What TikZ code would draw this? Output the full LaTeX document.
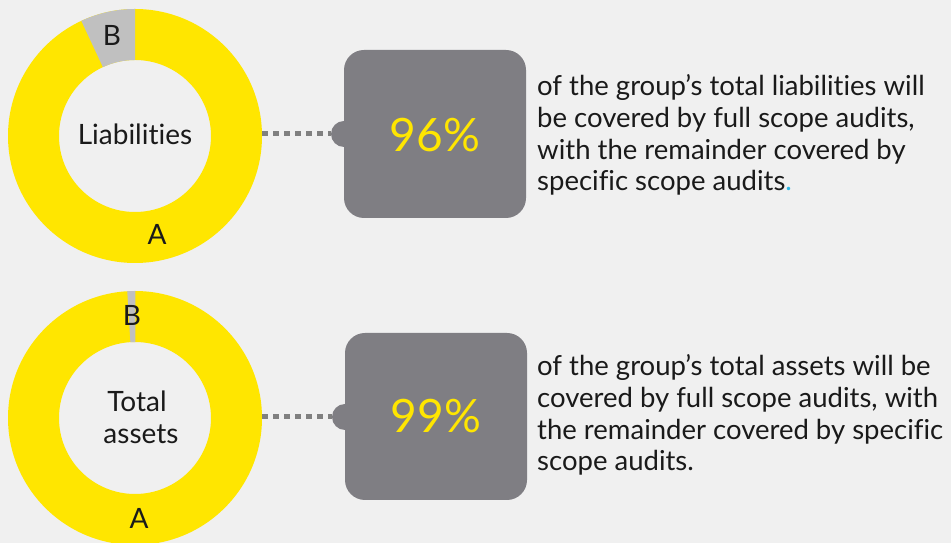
\documentclass[tikz,border=0pt]{standalone}
\usepackage{fontspec}
\setmainfont{Lato}[Ligatures={NoCommon}]
\usetikzlibrary{calc}
\definecolor{bg}{HTML}{F0F0F0}
\definecolor{eyyellow}{HTML}{FFE600}
\definecolor{boxgray}{HTML}{7F7E83}
\definecolor{dotgray}{HTML}{808080}
\definecolor{wedgegray}{HTML}{C0C0C0}
\definecolor{txt}{HTML}{1A1A1A}
\definecolor{dotblue}{HTML}{2DB7E6}
\begin{document}
\begin{tikzpicture}[x=1pt,y=1pt,
  lbl/.style={inner sep=0pt, text=txt, font=\fontsize{28}{31}\selectfont},
  body/.style={inner sep=0pt, anchor=base west, text=txt, font=\fontsize{27.5}{31}\selectfont},
  pct/.style={inner sep=0pt, anchor=base, text=eyyellow, font=\fontsize{46}{50}\selectfont},
  card/.style={fill=boxgray, rounded corners=20pt},
  link/.style={draw=dotgray, line width=5pt, dash pattern=on 5.5pt off 5.5pt},
  bump/.style={fill=boxgray}
]
\fill[bg] (0,0) rectangle (951,543);
\useasboundingbox (0,0) rectangle (951,543);

% ---------- top donut ----------
\coordinate (c1) at (135,407);
\fill[eyyellow, even odd rule] (c1) circle[radius=127] (c1) circle[radius=76];
\fill[wedgegray] ($(c1)+(90:127)$) arc[start angle=90, end angle=115, radius=127]
  -- ($(c1)+(115:76)$) arc[start angle=115, end angle=90, radius=76] -- cycle;
\node[lbl, anchor=base] (lia) at (135,398) {Liabilities};
\node[lbl, anchor=base] (b1) at (112,497) {B};
\node[lbl, anchor=base] (a1) at (157,298) {A};

% ---------- top card ----------
\fill[card] (344,325) rectangle (526,493);
\node[circle, bump, minimum size=26pt, inner sep=0pt] (k1) at (344,409) {};
\node[pct] (p1) at (435,391) {96\%};
\coordinate (s1) at (262,409);
\draw[link] (s1) -- (k1.west);

\node[body] (t11) at (537,447) {of the group’s total liabilities will};
\node[body] (t12) at (537,415.3) {be covered by full scope audits,};
\node[body] (t13) at (537,383.7) {with the remainder covered by};
\node[body] (t14) at (537,352) {specific scope audits\textcolor{dotblue}{.}};

% ---------- bottom donut ----------
\coordinate (c2) at (135,125);
\fill[eyyellow, even odd rule] (c2) circle[radius=127] (c2) circle[radius=76];
\fill[wedgegray] ($(c2)+(89.8:127)$) arc[start angle=89.8, end angle=93.5, radius=127]
  -- ($(c2)+(93.5:76)$) arc[start angle=93.5, end angle=89.8, radius=76] -- cycle;
\node[lbl, anchor=base] (tot) at (137,131) {Total};
\node[lbl, anchor=base] (ass) at (141,99.7) {assets};
\node[lbl, anchor=base] (b2) at (132,217) {B};
\node[lbl, anchor=base] (a2) at (139,14) {A};

% ---------- bottom card ----------
\fill[card] (345,43) rectangle (527,210);
\node[circle, bump, minimum size=26pt, inner sep=0pt] (k2) at (345,126) {};
\node[pct] (p2) at (436,110) {99\%};
\coordinate (s2) at (262,126);
\draw[link] (s2) -- (k2.west);

\node[body] (t21) at (537,167) {of the group’s total assets will be};
\node[body] (t22) at (537,135.3) {covered by full scope audits, with};
\node[body] (t23) at (537,103.7) {the remainder covered by specific};
\node[body] (t24) at (537,72) {scope audits.};
\end{tikzpicture}
\end{document}
